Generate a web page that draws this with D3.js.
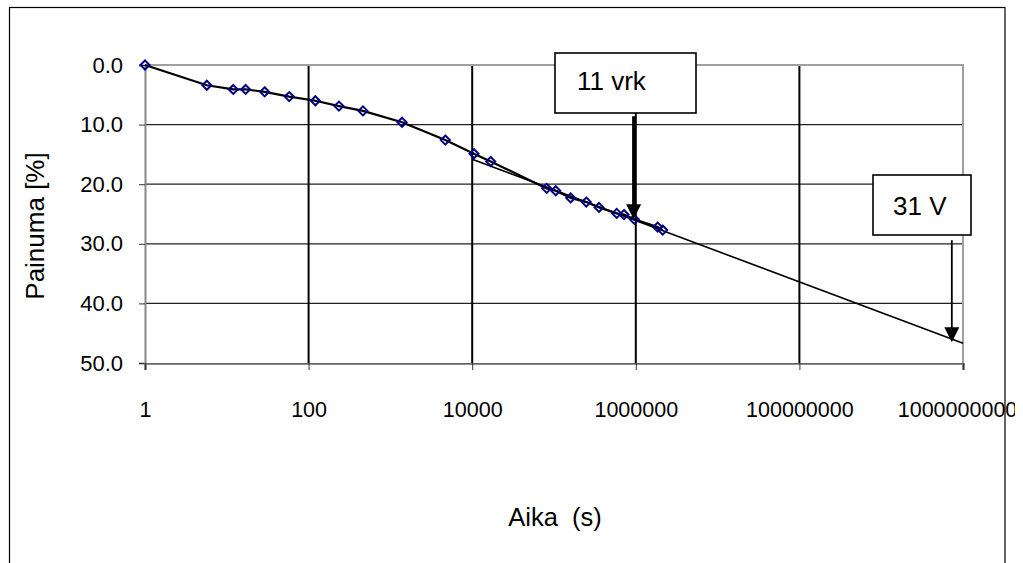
<!DOCTYPE html>
<html><head><meta charset="utf-8">
<script src="https://cdn.jsdelivr.net/npm/d3@7"></script>
<style>body{margin:0;background:#fff}svg{display:block}</style>
</head><body>
<script>
const timeS = [1, 5.7, 12, 17, 29, 58, 121, 235, 462, 1387, 4690, 10520, 16830, 81400, 105000, 160000, 248000, 355000, 584000, 718000, 959000, 1850000, 2130000];
const settlement = [0, 3.4, 4.1, 4.1, 4.5, 5.3, 6.0, 6.9, 7.7, 9.6, 12.6, 14.9, 16.2, 20.7, 21.1, 22.3, 23.0, 23.9, 24.9, 25.1, 25.9, 27.2, 27.7];
const trendTime = [10000, 10000000000];
const trendSettlement = [15.8, 46.7];
const xTicks = [1, 100, 10000, 1000000, 100000000, 10000000000];
const yTicks = [0, 10, 20, 30, 40, 50];
const xTitle = "Aika  (s)";
const yTitle = "Painuma [%]";
const notes = [{label: "11 vrk", t: 940000, from: 8.6, to: 25.9, box: [555, 53, 141, 60], tx: 22, ty: 37},
               {label: "31 V", t: 7.3e9, from: 29.4, to: 46.5, box: [873, 175, 98, 60], tx: 20, ty: 40}];

const W = 1023, H = 563;
const m = {l: 145, r: 963, t: 65, b: 363};
const FONT = "'Liberation Sans', Arial, sans-serif";
const svg = d3.select("body").append("svg").attr("width", W).attr("height", H)
  .style("font-family", FONT);

const x = d3.scaleLog().domain([1, 1e10]).range([m.l, m.r]);
const y = d3.scaleLinear().domain([0, 50]).range([m.t, m.b]);

svg.append("defs").append("clipPath").attr("id", "cl")
  .append("rect").attr("x", 0).attr("y", 0).attr("width", 1015).attr("height", H);

// outer border
svg.append("rect").attr("x", 9.5).attr("y", 7.5).attr("width", 995.5).attr("height", 600)
  .attr("fill", "none").attr("stroke", "#000").attr("stroke-width", 1.2);

// horizontal gridlines
svg.append("g").selectAll("line").data(yTicks.filter(v => v > 0 && v < 50)).join("line")
  .attr("x1", m.l).attr("x2", m.r).attr("y1", d => y(d)).attr("y2", d => y(d))
  .attr("stroke", "#222").attr("stroke-width", 1.2);
// vertical gridlines
svg.append("g").selectAll("line").data(xTicks.slice(1, -1)).join("line")
  .attr("x1", d => x(d)).attr("x2", d => x(d)).attr("y1", m.t).attr("y2", m.b)
  .attr("stroke", "#000").attr("stroke-width", 2);

// plot border (top/right) gray
svg.append("path").attr("d", `M${m.l},${m.t}H${m.r}V${m.b}`)
  .attr("fill", "none").attr("stroke", "#a0a0a0").attr("stroke-width", 2);

// axes
const yAxis = d3.axisLeft(y).tickValues(yTicks).tickFormat(d3.format(".1f")).tickSize(6).tickPadding(16);
const gy = svg.append("g").attr("transform", `translate(${m.l},0)`).call(yAxis);
gy.select(".domain").attr("stroke", "#888").attr("stroke-width", 2);
gy.selectAll(".tick line").attr("stroke", "#333");
gy.selectAll("text").attr("font-size", 22).attr("fill", "#000").attr("font-family", FONT);

const xAxis = d3.axisBottom(x).tickValues(xTicks).tickFormat(d3.format("d")).tickSize(7).tickPadding(32);
const gx = svg.append("g").attr("transform", `translate(0,${m.b})`).attr("clip-path", "url(#cl)").call(xAxis);
gx.select(".domain").attr("stroke", "#666").attr("stroke-width", 2.5);
gx.selectAll(".tick line").attr("stroke", "#333");
gx.selectAll("text").attr("font-size", 21.5).attr("fill", "#000").attr("font-family", FONT);

// titles
svg.append("text").attr("x", 555).attr("y", 526).attr("text-anchor", "middle")
  .attr("font-size", 25.5).style("white-space", "pre").text(xTitle);
svg.append("text").attr("transform", "translate(44,226) rotate(-90)").attr("text-anchor", "middle")
  .attr("font-size", 26).text(yTitle);

// trend line
svg.append("path").datum(trendTime.map((t, i) => [t, trendSettlement[i]]))
  .attr("d", d3.line().x(d => x(d[0])).y(d => y(d[1])))
  .attr("fill", "none").attr("stroke", "#000").attr("stroke-width", 1.6);

// data line
const pts = timeS.map((t, i) => [t, settlement[i]]);
svg.append("path").datum(pts)
  .attr("d", d3.line().x(d => x(d[0])).y(d => y(d[1])))
  .attr("fill", "none").attr("stroke", "#000").attr("stroke-width", 2.2);

// markers
const sym = d3.symbol().type(d3.symbolDiamond2).size(52);
svg.append("g").selectAll("path").data(pts).join("path")
  .attr("transform", d => `translate(${x(d[0])},${y(d[1])})`)
  .attr("d", sym).attr("fill", "none").attr("stroke", "#000080").attr("stroke-width", 2);

// annotations
notes.forEach((n, i) => {
  const ax = x(n.t);
  const y0 = y(n.from), y1 = y(n.to);
  svg.append("line").attr("x1", ax).attr("x2", ax).attr("y1", y0).attr("y2", y1 - 13)
    .attr("stroke", "#000").attr("stroke-width", i === 0 ? 3 : 1.8);
  svg.append("path").attr("d", `M${ax - 7.5},${y1 - 15}L${ax + 7.5},${y1 - 15}L${ax},${y1}Z`).attr("fill", "#000");
  const [bx, by, bw, bh] = n.box;
  svg.append("rect").attr("x", bx).attr("y", by).attr("width", bw).attr("height", bh)
    .attr("fill", "#fff").attr("stroke", "#000").attr("stroke-width", 1.6);
  svg.append("text").attr("x", bx + n.tx).attr("y", by + n.ty)
    .attr("font-size", 26).text(n.label);
});
</script>
</body></html>
